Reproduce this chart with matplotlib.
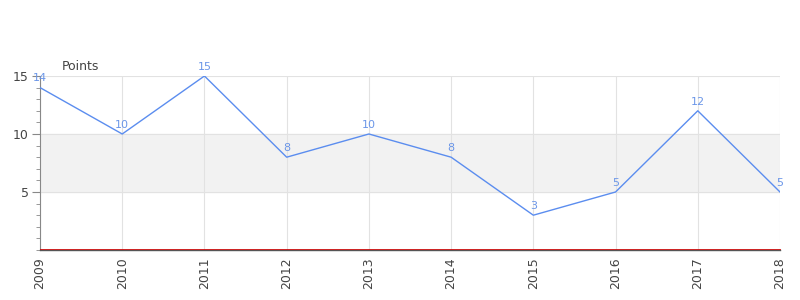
import matplotlib.pyplot as plt
import matplotlib.transforms as mtransforms
from matplotlib.ticker import MultipleLocator

years = [2009, 2010, 2011, 2012, 2013, 2014, 2015, 2016, 2017, 2018]
points = [14, 10, 15, 8, 10, 8, 3, 5, 12, 5]
y_ticks = [5, 10, 15]
band = (5, 10)

LINE_COLOR = "#5b8def"
LABEL_COLOR = "#6b96e8"
GRID_COLOR = "#e2e2e2"

fig = plt.figure(figsize=(8, 3), dpi=100, facecolor="white")
ax = fig.add_axes([0.05, 0.1667, 0.925, 0.58])

ax.axhspan(band[0], band[1], color="#f2f2f2", zorder=0)
ax.plot(years, points, color=LINE_COLOR, linewidth=1.0, zorder=3)

for x, y in zip(years, points):
    ax.annotate(str(y), (x, y), xytext=(0, 3), textcoords="offset points",
                ha="center", va="bottom", fontsize=8, color=LABEL_COLOR, zorder=4,
                annotation_clip=False)

ax.set_xlim(years[0], years[-1])
ax.set_ylim(0, 15)
ax.set_xticks(years)
ax.set_xticklabels([str(y) for y in years], rotation=90)
ax.set_yticks(y_ticks)
ax.yaxis.set_minor_locator(MultipleLocator(1))

ax.grid(True, which="major", color=GRID_COLOR, linewidth=0.8, zorder=1)
ax.set_axisbelow(True)

for side in ["top", "right"]:
    ax.spines[side].set_visible(False)
ax.spines["left"].set_color("#888888")
ax.spines["bottom"].set_color("#555555")
ax.spines["bottom"].set_linewidth(1.0)

# thin red baseline sitting just above the axis line
red_tr = mtransforms.offset_copy(ax.transData, fig=fig, x=0, y=0.8, units="points")
ax.plot(years, [0] * len(years), color="#cc0000", linewidth=0.6, zorder=5,
        clip_on=False, transform=red_tr)

ax.tick_params(axis="x", length=0, labelsize=9, colors="#444444", pad=5)
ax.tick_params(axis="y", which="major", length=6, color="#888888", labelsize=9,
               labelcolor="#444444", pad=2)
ax.tick_params(axis="y", which="minor", length=3, color="#888888")

fig.text(62 / 800, 1 - 66 / 300, "Points", fontsize=9, color="#444444",
         ha="left", va="center")

fig.savefig("out.png", dpi=100, facecolor="white")
